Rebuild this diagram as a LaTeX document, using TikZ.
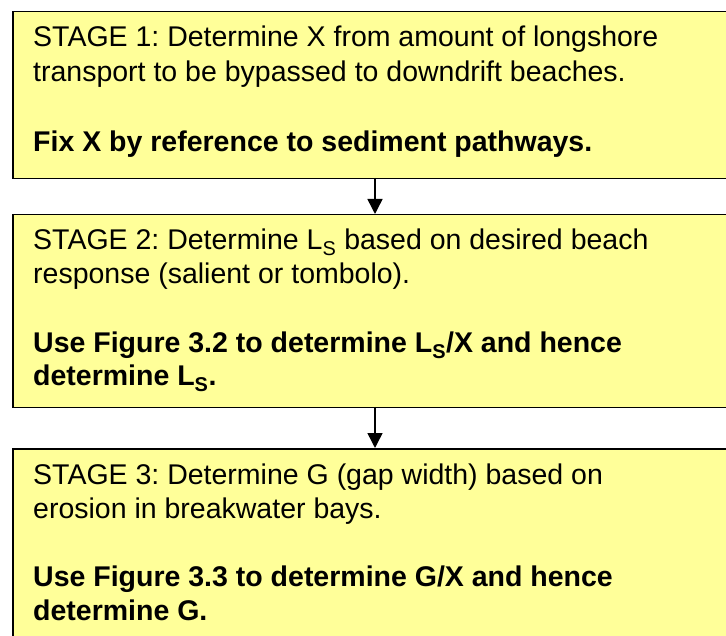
\documentclass[tikz,border=0pt]{standalone}
\usepackage{fontspec}
\setmainfont{Liberation Sans}
\usetikzlibrary{arrows.meta}
\definecolor{stagefill}{RGB}{255,255,153}
\newcommand{\subS}{\textsubscript{S}}
\frenchspacing
\begin{document}
\begin{tikzpicture}[x=1pt,y=1pt,
  stagebox/.style={draw=black,line width=1.5pt,fill=stagefill,
    rectangle,anchor=north west,inner sep=0pt},
  stagetext/.style={anchor=base west,inner sep=0pt,
    font=\fontsize{28.5}{34}\selectfont},
  flow/.style={draw=black,line width=1.5pt,
    -{Triangle[width=15pt,length=15pt]}}]
\useasboundingbox (0,0) rectangle (726,-636);
\clip (0,0) rectangle (726,-636);
\fill[white] (0,0) rectangle (726,-636);

% stage boxes (they run past the right and bottom edges)
\node[stagebox,minimum width=740pt,minimum height=167pt] (b1) at (12,-11) {};
\node[stagebox,minimum width=740pt,minimum height=193pt] (b2) at (12,-214) {};
\node[stagebox,minimum width=740pt,minimum height=220pt] (b3) at (12,-448) {};

% stage 1
\node[stagetext] (t1a) at (33,-47) {STAGE 1: Determine X from amount of longshore};
\node[stagetext] (t1b) at (33,-82) {transport to be bypassed to downdrift beaches.};
\node[stagetext] (t1c) at (33,-152) {\bfseries Fix X by reference to sediment pathways.};

% stage 2
\node[stagetext] (t2a) at (33,-250) {STAGE 2: Determine L\subS{} based on desired beach};
\node[stagetext] (t2b) at (33,-284) {response (salient or tombolo).};
\node[stagetext] (t2c) at (33,-353) {\bfseries Use Figure 3.2 to determine L\subS/X and hence};
\node[stagetext] (t2d) at (33,-386) {\bfseries determine L\subS.};

% stage 3
\node[stagetext] (t3a) at (33,-484) {STAGE 3: Determine G (gap width) based on};
\node[stagetext] (t3b) at (33,-518) {erosion in breakwater bays.};
\node[stagetext] (t3c) at (33,-586) {\bfseries Use Figure 3.3 to determine G/X and hence};
\node[stagetext] (t3d) at (33,-620) {\bfseries determine G.};

% connectors
\coordinate (a1s) at (375,-178);
\coordinate (a1e) at (375,-214);
\coordinate (a2s) at (375,-407);
\coordinate (a2e) at (375,-448);
\draw[flow] (a1s) -- (a1e);
\draw[flow] (a2s) -- (a2e);
\end{tikzpicture}
\end{document}
